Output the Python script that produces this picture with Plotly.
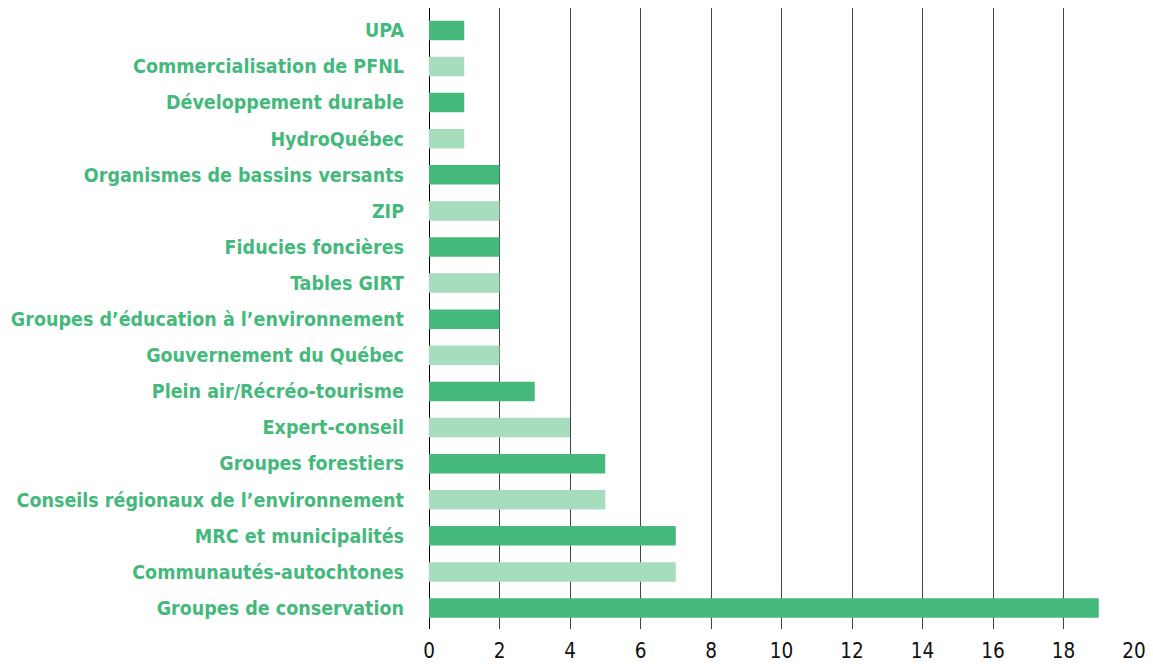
import plotly.graph_objects as go

categories = ["UPA", "Commercialisation de PFNL", "Développement durable", "HydroQuébec",
              "Organismes de bassins versants", "ZIP", "Fiducies foncières", "Tables GIRT",
              "Groupes d’éducation à l’environnement", "Gouvernement du Québec",
              "Plein air/Récréo-tourisme", "Expert-conseil", "Groupes forestiers",
              "Conseils régionaux de l’environnement", "MRC et municipalités",
              "Communautés-autochtones", "Groupes de conservation"]
values = [1, 1, 1, 1, 2, 2, 2, 2, 2, 2, 3, 4, 5, 5, 7, 7, 19]
tick_vals = [0, 2, 4, 6, 8, 10, 12, 14, 16, 18, 20]

dark = "#45B97C"
light = "#A5DDBD"
colors = [dark if i % 2 == 0 else light for i in range(len(categories))]

fig = go.Figure(go.Bar(
    x=values, y=categories, orientation="h",
    marker=dict(color=colors, line=dict(width=0)),
    width=0.54,
))

fig.update_layout(
    width=1153, height=664,
    margin=dict(l=429, r=19, t=8, b=35),
    plot_bgcolor="white", paper_bgcolor="white",
    showlegend=False,
    font=dict(family="DejaVu Sans Condensed, DejaVu Sans", size=19),
)
fig.update_xaxes(
    range=[0, 20], tickvals=tick_vals, showgrid=True, gridcolor="#444444", gridwidth=1,
    zeroline=True, zerolinecolor="#000000", zerolinewidth=1,
    tickfont=dict(color="#111111", size=20.5, family="DejaVu Sans Condensed, DejaVu Sans"),
    ticks="", showline=False, automargin=False, ticklabelstandoff=7,
)
fig.update_yaxes(
    type="category",
    categoryorder="array", categoryarray=categories[::-1],
    range=[-0.58, 16.62],
    tickfont=dict(color=dark, size=19.5, family="DejaVu Sans Condensed, DejaVu Sans"),
    ticks="", showline=False, ticklabelstandoff=24, automargin=False,
    tickvals=categories[::-1], ticktext=[f"<b>{c}</b>" for c in categories[::-1]],
)

fig.write_html("out.html", config={"displayModeBar": False},
               post_script="document.body.style.margin='0';document.body.style.overflow='hidden';")
